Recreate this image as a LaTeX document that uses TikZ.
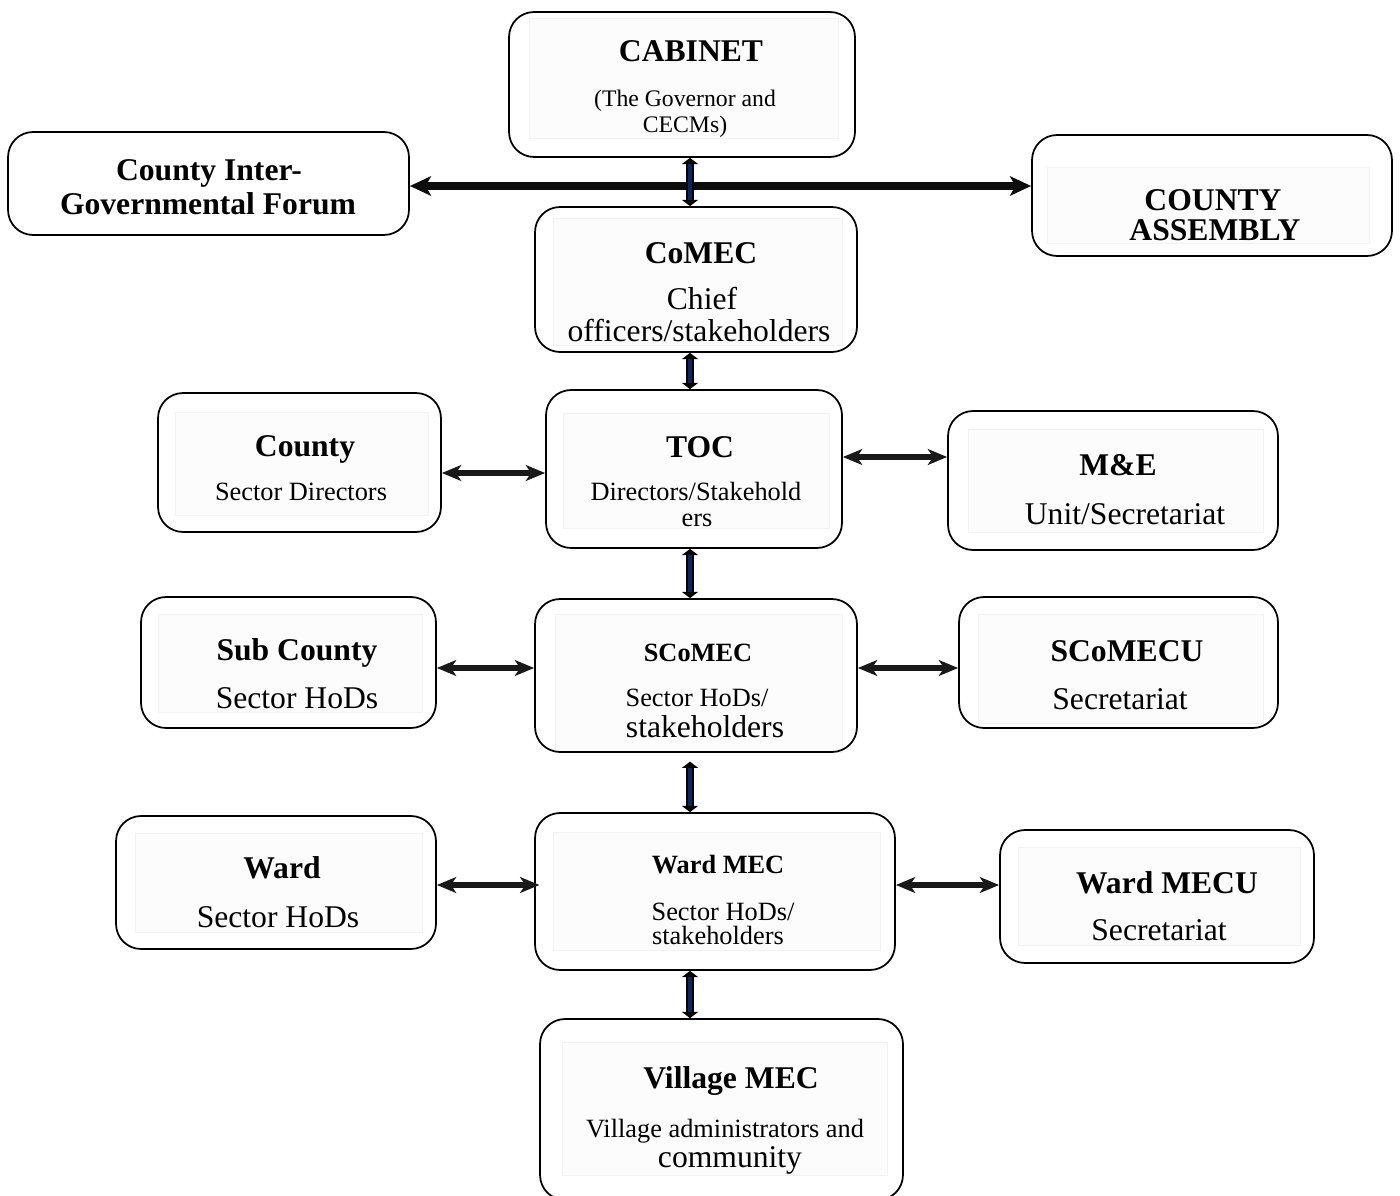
\documentclass[tikz,border=0pt]{standalone}
\usepackage{fontspec}
\setmainfont{Liberation Serif}
\usetikzlibrary{arrows.meta}
\definecolor{linknavy}{RGB}{10,36,100}
\tikzset{
  orgbox/.style={rectangle, draw, line width=1pt, rounded corners=0.5cm, inner sep=0pt},
  innerbox/.style={draw=black!5, fill=black!1, line width=0.4pt},
  ttl/.style={anchor=base, inner sep=0pt, font=\fontsize{18}{20}\selectfont\bfseries},
  txt/.style={anchor=base, inner sep=0pt, font=\fontsize{18}{20}\selectfont},
  smallttl/.style={anchor=base, inner sep=0pt, font=\fontsize{15}{17}\selectfont\bfseries},
  smalltxt/.style={anchor=base, inner sep=0pt, font=\fontsize{15}{17}\selectfont},
  hlink/.style={draw=black!90, line width=3pt,
    {Stealth[length=11pt,width=9pt,inset=3pt]}-{Stealth[length=11pt,width=9pt,inset=3pt]}},
  biglink/.style={draw=black!95, line width=4.5pt,
    {Stealth[length=12pt,width=11pt,inset=3pt]}-{Stealth[length=12pt,width=11pt,inset=3pt]}},
  vlink/.style={draw=black, line width=4.5pt,
    {Triangle[length=3.5pt,width=9pt]}-{Triangle[length=3.5pt,width=9pt]},
    postaction={draw=linknavy, line width=2.8pt, -, shorten <=3.5pt, shorten >=3.5pt}},
}

\begin{document}
\begin{tikzpicture}[x=0.02cm, y=-0.02cm]
  \useasboundingbox (0,0) rectangle (1400,1196);

  % faint inner panels
  \draw[innerbox] (529,18) rectangle (838,138);
  \draw[innerbox] (1047,167) rectangle (1369,243);
  \draw[innerbox] (553,218) rectangle (842,345);
  \draw[innerbox] (175,412) rectangle (428,515);
  \draw[innerbox] (563,413) rectangle (829,528);
  \draw[innerbox] (968,429) rectangle (1263,532);
  \draw[innerbox] (158,614) rectangle (422,712);
  \draw[innerbox] (555,614) rectangle (842,752);
  \draw[innerbox] (978,614) rectangle (1263,723);
  \draw[innerbox] (135,833) rectangle (422,932);
  \draw[innerbox] (553,832) rectangle (880,950);
  \draw[innerbox] (1018,847) rectangle (1300,945);
  \draw[innerbox] (562,1042) rectangle (887,1175);

  % outer boxes
  \node[orgbox, minimum width=6.92cm, minimum height=2.9cm] (cab) at (682,84.5) {};
  \node[orgbox, minimum width=8.02cm, minimum height=2.06cm] (forum) at (208.5,183.5) {};
  \node[orgbox, minimum width=7.2cm, minimum height=2.42cm] (assembly) at (1212,195.5) {};
  \node[orgbox, minimum width=6.44cm, minimum height=2.9cm] (comec) at (696,279.5) {};
  \node[orgbox, minimum width=5.66cm, minimum height=2.78cm] (csd) at (299.5,462.5) {};
  \node[orgbox, minimum width=5.92cm, minimum height=3.16cm] (toc) at (694,469) {};
  \node[orgbox, minimum width=6.6cm, minimum height=2.78cm] (me) at (1113,480.5) {};
  \node[orgbox, minimum width=5.9cm, minimum height=2.62cm] (subc) at (288.5,662.5) {};
  \node[orgbox, minimum width=6.44cm, minimum height=3.06cm] (scomec) at (696,675.5) {};
  \node[orgbox, minimum width=6.38cm, minimum height=2.62cm] (scomecu) at (1118.5,662.5) {};
  \node[orgbox, minimum width=6.4cm, minimum height=2.66cm] (ward) at (276,882.5) {};
  \node[orgbox, minimum width=7.2cm, minimum height=3.14cm] (wardmec) at (715,891.5) {};
  \node[orgbox, minimum width=6.28cm, minimum height=2.66cm] (wardmecu) at (1157,896.5) {};
  \node[orgbox, minimum width=7.26cm, minimum height=3.62cm] (village) at (721.5,1109.5) {};

  % texts
  \node[ttl] (cabT) at (691,62) {CABINET};
  \node[txt, font=\fontsize{13.5}{15}\selectfont] (cabS1) at (685,107) {(The Governor and};
  \node[txt, font=\fontsize{13.5}{15}\selectfont] (cabS2) at (685,133) {CECMs)};
  \node[ttl] (forumT1) at (209,181) {County Inter-};
  \node[ttl] (forumT2) at (208,215) {Governmental Forum};
  \node[ttl] (assemblyT1) at (1213,211) {COUNTY};
  \node[ttl] (assemblyT2) at (1215,241) {ASSEMBLY};
  \node[ttl] (comecT) at (701,264) {CoMEC};
  \node[txt] (comecS1) at (702,310) {Chief};
  \node[txt] (comecS2) at (699,341) {officers/stakeholders};
  \node[ttl] (csdT) at (305,456) {County};
  \node[smalltxt] (csdS) at (301,500) {Sector Directors};
  \node[ttl] (tocT) at (700,457) {TOC};
  \node[smalltxt] (tocS1) at (696,500) {Directors/Stakehold};
  \node[smalltxt] (tocS2) at (697,526) {ers};
  \node[ttl] (meT) at (1118,475) {M\&E};
  \node[txt] (meS) at (1125,524) {Unit/Secretariat};
  \node[ttl] (subcT) at (297,660) {Sub County};
  \node[txt] (subcS) at (297,708) {Sector HoDs};
  \node[smallttl] (scomecT) at (698,661) {SCoMEC};
  \node[smalltxt] (scomecS1) at (697,706) {Sector HoDs/};
  \node[txt] (scomecS2) at (705,737) {stakeholders};
  \node[ttl] (scomecuT) at (1127,661) {SCoMECU};
  \node[txt] (scomecuS) at (1120,709) {Secretariat};
  \node[ttl] (wardT) at (282,878) {Ward};
  \node[txt] (wardS) at (278,927) {Sector HoDs};
  \node[smallttl] (wardmecT) at (718,873) {Ward MEC};
  \node[smalltxt] (wardmecS1) at (723,920) {Sector HoDs/};
  \node[smalltxt] (wardmecS2) at (718,944) {stakeholders};
  \node[ttl] (wardmecuT) at (1167,893) {Ward MECU};
  \node[txt] (wardmecuS) at (1159,940) {Secretariat};
  \node[ttl] (villageT) at (731,1088) {Village MEC};
  \node[smalltxt] (villageS1) at (725,1137) {Village administrators and};
  \node[txt] (villageS2) at (730,1167) {community};

  % links
  \coordinate (spine) at (690,0);
  \draw[biglink] (forum.east |- 0,186) -- (assembly.west |- 0,186);
  \draw[vlink] (cab.south -| spine) -- (comec.north -| spine);
  \draw[vlink] (comec.south -| spine) -- (toc.north -| spine);
  \draw[vlink] (toc.south -| spine) -- (scomec.north -| spine);
  \draw[vlink] ([yshift=-5pt]scomec.south -| spine) -- (wardmec.north -| spine);
  \draw[vlink] (wardmec.south -| spine) -- (village.north -| spine);
  \draw[hlink] (csd.east |- 0,473) -- (toc.west |- 0,473);
  \draw[hlink] (toc.east |- 0,457) -- (me.west |- 0,457);
  \draw[hlink] (subc.east |- 0,668) -- (scomec.west |- 0,668);
  \draw[hlink] (scomec.east |- 0,668) -- (scomecu.west |- 0,668);
  \draw[hlink] (ward.east |- 0,885) -- ([xshift=3pt]wardmec.west |- 0,885);
  \draw[hlink] (wardmec.east |- 0,885) -- (wardmecu.west |- 0,885);
\end{tikzpicture}
\end{document}
